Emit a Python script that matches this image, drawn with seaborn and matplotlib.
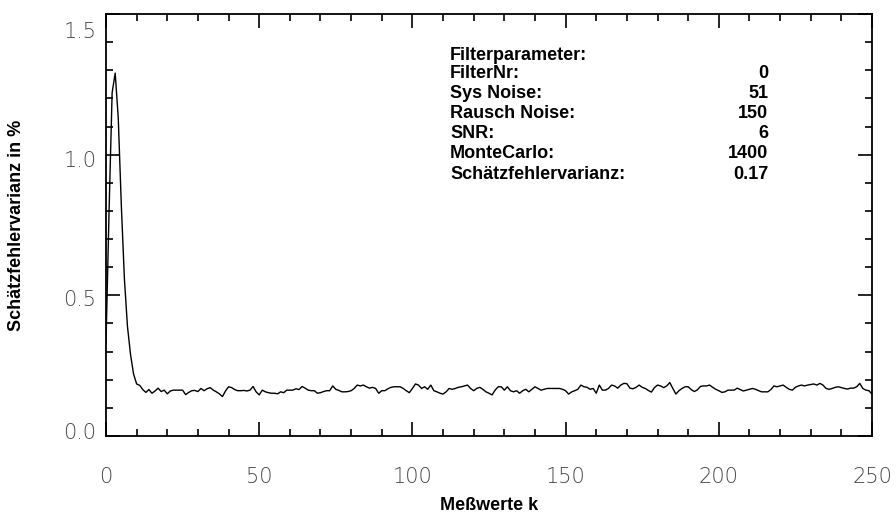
import seaborn as sns
import matplotlib.pyplot as plt
from matplotlib.ticker import MultipleLocator
from matplotlib.transforms import ScaledTranslation
import numpy as np
import pandas as pd

# Schätzfehlervarianz je Meßwert k
k_values = list(range(0, 251))
varianz = [
    0.33, 0.80, 1.22, 1.29, 1.13, 0.82, 0.56, 0.39, 0.29, 0.22,
    0.185, 0.18, 0.165, 0.155, 0.165, 0.152, 0.16, 0.17, 0.158, 0.163,
    0.15, 0.16, 0.163, 0.163, 0.163, 0.163, 0.147, 0.155, 0.161, 0.162,
    0.158, 0.169, 0.161, 0.168, 0.172, 0.163, 0.157, 0.15, 0.14, 0.16,
    0.175, 0.172, 0.165, 0.161, 0.161, 0.162, 0.16, 0.163, 0.176, 0.157,
    0.146, 0.163, 0.157, 0.154, 0.152, 0.152, 0.15, 0.157, 0.154, 0.163,
    0.163, 0.163, 0.168, 0.165, 0.176, 0.17, 0.163, 0.161, 0.161, 0.152,
    0.154, 0.158, 0.161, 0.161, 0.178, 0.166, 0.162, 0.157, 0.157, 0.158,
    0.161, 0.169, 0.181, 0.178, 0.181, 0.175, 0.17, 0.173, 0.169, 0.152,
    0.161, 0.161, 0.168, 0.173, 0.175, 0.175, 0.175, 0.169, 0.161, 0.154,
    0.169, 0.185, 0.181, 0.169, 0.175, 0.166, 0.181, 0.161, 0.157, 0.152,
    0.149, 0.157, 0.169, 0.166, 0.169, 0.173, 0.175, 0.178, 0.181, 0.169,
    0.161, 0.169, 0.173, 0.166, 0.157, 0.152, 0.146, 0.163, 0.175, 0.175,
    0.163, 0.175, 0.161, 0.157, 0.161, 0.152, 0.161, 0.166, 0.157, 0.166,
    0.175, 0.169, 0.163, 0.166, 0.169, 0.169, 0.169, 0.169, 0.169, 0.166,
    0.161, 0.149, 0.157, 0.161, 0.166, 0.181, 0.175, 0.173, 0.166, 0.169,
    0.152, 0.181, 0.163, 0.163, 0.169, 0.181, 0.178, 0.17, 0.181, 0.187,
    0.186, 0.17, 0.168, 0.173, 0.181, 0.173, 0.169, 0.162, 0.156, 0.172,
    0.181, 0.178, 0.172, 0.178, 0.19, 0.169, 0.149, 0.161, 0.169, 0.175,
    0.175, 0.165, 0.158, 0.164, 0.176, 0.178, 0.178, 0.181, 0.173, 0.166,
    0.161, 0.155, 0.157, 0.163, 0.163, 0.163, 0.17, 0.165, 0.16, 0.163,
    0.166, 0.169, 0.166, 0.161, 0.157, 0.157, 0.157, 0.165, 0.178, 0.175,
    0.178, 0.181, 0.173, 0.166, 0.163, 0.173, 0.178, 0.181, 0.178, 0.181,
    0.183, 0.185, 0.181, 0.187, 0.181, 0.169, 0.166, 0.169, 0.173, 0.175,
    0.172, 0.169, 0.167, 0.17, 0.17, 0.175, 0.187, 0.169, 0.163, 0.161,
    0.149,
]

param_names = ["FilterNr:", "Sys Noise:", "Rausch Noise:", "SNR:",
               "MonteCarlo:", "Schätzfehlervarianz:"]
param_values = ["0", "51", "150", "6", "1400", "0.17"]

y_ticks = [0.0, 0.5, 1.0, 1.5]
y_ticklabels = ["0.0", "0.5", "1.0", "1.5"]

df = pd.DataFrame({"k": k_values, "var": varianz})

sns.set_style("ticks")
plt.rcParams['font.family'] = ['DejaVu Sans']
plt.rcParams['text.color'] = 'black'

fig = plt.figure(figsize=(8.96, 5.16), dpi=100)
ax = fig.add_axes([106 / 896, 1 - 436 / 516, 766 / 896, 422 / 516])

sns.lineplot(data=df, x="k", y="var", color="black", linewidth=1.0, ax=ax)

ax.set_xlim(0, 250)
ax.set_ylim(0, 1.5)
ax.xaxis.set_major_locator(MultipleLocator(50))
ax.xaxis.set_minor_locator(MultipleLocator(10))
ax.yaxis.set_minor_locator(MultipleLocator(0.1))
ax.set_yticks(y_ticks)
ax.set_yticklabels(y_ticklabels)

for s in ax.spines.values():
    s.set_linewidth(1.3)
    s.set_color("black")
    s.set_visible(True)

ax.tick_params(which="both", direction="in", top=True, right=True,
               width=1.2, color="black")
ax.tick_params(which="major", length=10)
ax.tick_params(which="minor", length=5)
ax.tick_params(axis="x", which="major", pad=22, labelsize=15, labelcolor="#444444")
ax.tick_params(axis="y", which="major", pad=7, labelsize=15, labelcolor="#444444")
for lab in ax.get_xticklabels() + ax.get_yticklabels():
    lab.set_fontweight("light")

# IDL-artige Verschiebung der y-Beschriftungen (in Pixel, + = nach oben)
y_shift = [5, -3, -4, -16]
for lab, dy in zip(ax.get_yticklabels(), y_shift):
    lab.set_transform(lab.get_transform() + ScaledTranslation(0, dy / 100, fig.dpi_scale_trans))

ax.set_xlabel("Meßwerte k", fontsize=13, fontweight="bold", family="Liberation Sans",
              color="black")
ax.set_ylabel("Schätzfehlervarianz in %", fontsize=13, fontweight="bold",
              family="Liberation Sans", color="black")
ax.xaxis.set_label_coords(0.5, -0.145)
ax.yaxis.set_label_coords(-0.106, 0.5)

# Parameterblock
txt_kw = dict(fontsize=13, fontweight="bold", family="Liberation Sans",
              color="black", transform=fig.transFigure, va="center")
row_y = [55, 74, 94, 114, 134, 154, 175]
fig.text(450 / 896, 1 - row_y[0] / 516, "Filterparameter:", ha="left", **txt_kw)
for i, (name, val) in enumerate(zip(param_names, param_values)):
    yy = 1 - row_y[i + 1] / 516
    fig.text(450 / 896, yy, name, ha="left", **txt_kw)
    fig.text(768 / 896, yy, val, ha="right", **txt_kw)

fig.savefig("out.png", dpi=100)
